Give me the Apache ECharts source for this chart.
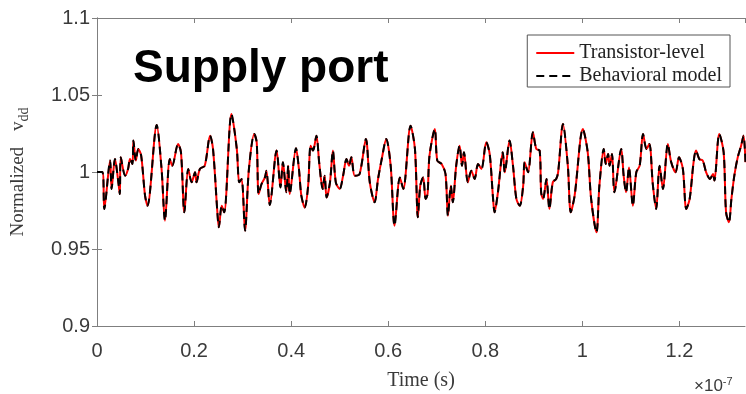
<!DOCTYPE html>
<html>
<head>
<meta charset="utf-8">
<script src="https://cdn.jsdelivr.net/npm/echarts@6.0.0/dist/echarts.min.js"></script>
<style>
  html, body { margin: 0; padding: 0; background: #fff; }
  #chart { width: 746px; height: 394px; }
</style>
</head>
<body>
<div id="chart"></div>
<script>
// time in units of 1e-7 s
const timeE7 = [
  0, 0.011, 0.015, 0.027, 0.030, 0.037, 0.044, 0.047, 0.049, 0.058, 0.064, 0.068, 0.073, 0.075, 0.080,
  0.085, 0.091, 0.099, 0.104, 0.123, 0.133, 0.140, 0.150, 0.155, 0.167, 0.173, 0.180, 0.188, 0.195, 0.202,
  0.205, 0.212, 0.222, 0.233, 0.239, 0.248, 0.251, 0.257, 0.262, 0.277, 0.288, 0.293, 0.298, 0.305, 0.313,
  0.324, 0.329, 0.333, 0.339,
  0.346, 0.349, 0.356, 0.370, 0.378, 0.383, 0.390, 0.394, 0.397, 0.410, 0.416, 0.421, 0.428, 0.435, 0.440,
  0.445, 0.452, 0.458, 0.465, 0.469, 0.473, 0.480, 0.486, 0.492, 0.500, 0.507, 0.514, 0.519, 0.524, 0.531,
  0.541, 0.554, 0.562, 0.572, 0.579, 0.586, 0.596, 0.605, 0.613, 0.624, 0.631, 0.646, 0.655, 0.661, 0.666,
  0.672, 0.677,
  0.681, 0.685, 0.696, 0.701, 0.710, 0.718, 0.723, 0.729, 0.733, 0.740, 0.747, 0.752, 0.756, 0.764, 0.771,
  0.778, 0.785, 0.792, 0.802, 0.809, 0.816, 0.819, 0.826, 0.836, 0.840, 0.850, 0.857, 0.864, 0.871, 0.878,
  0.881, 0.888, 0.898, 0.905, 0.912, 0.915, 0.919, 0.926, 0.932, 0.939, 0.946, 0.950, 0.960, 0.970, 0.976,
  0.984, 1.001, 1.011, 1.018,
  1.029, 1.035, 1.044, 1.048, 1.053, 1.056, 1.061, 1.066, 1.080, 1.085, 1.090, 1.096, 1.104, 1.111, 1.118,
  1.125, 1.132, 1.138, 1.145, 1.152, 1.159, 1.166, 1.176, 1.183, 1.192, 1.199, 1.207, 1.214, 1.221, 1.229,
  1.234, 1.241, 1.248, 1.255, 1.263, 1.269, 1.272, 1.282, 1.291, 1.296, 1.302, 1.307, 1.313, 1.320, 1.327,
  1.332, 1.336
];
const transistorLevel = [
  1.000, 1.000, 0.976, 1.0074, 0.989, 1.0084, 0.9933, 0.9857, 1.0095, 0.9976, 1.002, 1.0084, 1.0052, 1.0204, 1.0074,
  1.015, 1.0106, 0.9846, 0.9781, 1.0305, 1.002, 0.9684, 1.0084, 1.0041, 1.0182, 1.0128, 0.9738, 1.002, 0.9933, 0.9998,
  0.9933, 1.002, 1.0041, 1.0236, 1.015, 0.9738, 0.9641, 0.9781, 0.9738, 1.0377, 1.015, 0.9933, 0.9955, 0.9619, 1.002,
  1.0247, 1.0193, 0.9857, 0.9922,
  0.9965, 1.0008, 0.9786, 1.0139, 0.990, 1.0063, 0.9868, 1.0041, 0.9857, 1.0154, 1.002, 0.9846, 0.977, 0.9911, 1.0171,
  1.0139, 1.0236, 1.0052, 0.989, 0.9976, 0.9835, 0.9933, 1.0139, 0.9933, 0.989, 0.9976, 1.0084, 1.0041, 1.0095, 0.9976,
  0.9987, 1.0214, 0.9933, 0.9803, 0.9955, 1.0074, 1.0214, 1.0041, 0.9651, 0.9965, 0.989, 1.0301, 1.015, 0.9706, 0.9911,
  0.9965, 0.9825,
  0.9857, 1.0106, 1.0279, 1.0074, 1.0052, 0.9987, 0.9716, 0.9911, 0.9803, 1.0041, 1.0171, 1.0041, 1.0128, 0.9933, 1.0008,
  0.9955, 1.0052, 1.002, 1.0193, 1.0117, 0.9825, 0.9738, 0.9868, 1.0128, 0.9998, 1.0204, 1.0041, 0.9825, 0.9781, 0.9911,
  1.0063, 0.9998, 1.0258, 1.015, 1.0139, 0.9868, 0.9825, 0.9955, 0.976, 0.9933, 0.9955, 0.9998, 1.0312, 1.0041, 0.9738,
  0.9846, 1.0279, 1.0128, 0.9825,
  0.9608, 0.9911, 1.015, 1.0052, 1.0117, 1.0041, 1.0117, 0.9868, 1.015, 0.9976, 0.9868, 1.003, 0.9781, 0.9998, 1.0041,
  1.0247, 1.015, 1.0182, 0.9922, 0.976, 1.0041, 0.989, 1.0182, 1.0063, 0.9998, 1.0095, 1.002, 0.976, 0.9825, 1.0063,
  1.0139, 1.0084, 1.0074, 0.9998, 0.9955, 0.9987, 0.9944, 1.0247, 1.0128, 0.9738, 0.9673, 0.9825, 0.9976, 1.0095, 1.0171,
  1.0236, 1.0063
];
// the behavioral model sits right on top of the transistor-level trace
const behavioralModel = transistorLevel.slice();

const seriesNames = ["Transistor-level", "Behavioral model"];

const axisGray = "#7f7f7f";
const labelGray = "#3a3a3a";
const serif = "'Liberation Serif', 'Times New Roman', serif";
const sans = "'Liberation Sans', Arial, sans-serif";

const chart = echarts.init(document.getElementById("chart"), null, { renderer: "canvas" });

const tickInside = { show: true, inside: true, length: 5, lineStyle: { color: axisGray } };
const line = { show: true, lineStyle: { color: axisGray, width: 1 } };

chart.setOption({
  animation: false,
  backgroundColor: "#fff",
  grid: { left: 97, right: 1, top: 18, bottom: 68, outerBoundsMode: "none" },
  xAxis: [{
    type: "value",
    min: 0,
    max: 1.335,
    interval: 0.2,
    name: "Time (s)",
    nameLocation: "middle",
    nameGap: 45,
    nameTextStyle: { fontFamily: serif, fontSize: 20, color: labelGray },
    axisLine: line,
    axisTick: tickInside,
    splitLine: { show: false },
    axisLabel: { fontFamily: sans, fontSize: 20, color: labelGray, margin: 15, showMaxLabel: false }
  }, {
    type: "value",
    position: "top",
    min: 0,
    max: 1.335,
    interval: 0.2,
    axisLine: line,
    axisTick: tickInside,
    axisLabel: { show: false },
    splitLine: { show: false }
  }],
  yAxis: [{
    type: "value",
    min: 0.9,
    max: 1.1,
    interval: 0.05,
    name: "{a|Normalized}{gap|}{a|v}{b|dd}",
    nameLocation: "middle",
    nameGap: 66,
    nameTextStyle: {
      rich: {
        a: { fontFamily: serif, fontSize: 19, color: labelGray },
        gap: { width: 16 },
        b: { fontFamily: serif, fontSize: 14, color: labelGray, verticalAlign: "bottom", padding: [11, 0, 0, 0] }
      }
    },
    axisLine: line,
    axisTick: tickInside,
    splitLine: { show: false },
    axisLabel: { fontFamily: sans, fontSize: 20, color: labelGray, margin: 7 }
  }, {
    type: "value",
    position: "right",
    min: 0.9,
    max: 1.1,
    interval: 0.05,
    axisLine: line,
    axisTick: tickInside,
    axisLabel: { show: false },
    splitLine: { show: false }
  }],
  legend: {
    orient: "vertical",
    right: 16,
    top: 35,
    padding: [8, 8, 1, 8],
    itemGap: 3,
    itemWidth: 38,
    itemHeight: 14,
    borderColor: "#555",
    borderWidth: 1,
    backgroundColor: "#fff",
    itemStyle: { color: "rgba(0,0,0,0)", borderWidth: 0, opacity: 0 },
    textStyle: { fontFamily: serif, fontSize: 20, color: "#222", lineHeight: 20 },
    data: seriesNames
  },
  graphic: [{
    type: "text",
    left: 133,
    top: 46,
    style: { text: "Supply port", font: "bold 46px " + sans, fill: "#000" }
  }, {
    type: "text",
    left: 694,
    top: 376,
    style: {
      text: "{a|×10}{b|-7}",
      rich: {
        a: { fontFamily: sans, fontSize: 17, fill: labelGray },
        b: { fontFamily: sans, fontSize: 11, fill: labelGray, verticalAlign: "top", padding: [0, 0, 10, 0] }
      }
    }
  }],
  series: [{
    name: seriesNames[0],
    type: "line",
    data: timeE7.map((t, i) => [t, transistorLevel[i]]),
    symbol: "none",
    smooth: 0.3,
    lineStyle: { color: "#ff0000", width: 2 },
    itemStyle: { color: "#ff0000" },
    z: 2
  }, {
    name: seriesNames[1],
    type: "line",
    data: timeE7.map((t, i) => [t, behavioralModel[i]]),
    symbol: "none",
    smooth: 0.3,
    lineStyle: { color: "#000", width: 2, type: [8, 5] },
    itemStyle: { color: "#000" },
    z: 3
  }]
});
</script>
</body>
</html>
